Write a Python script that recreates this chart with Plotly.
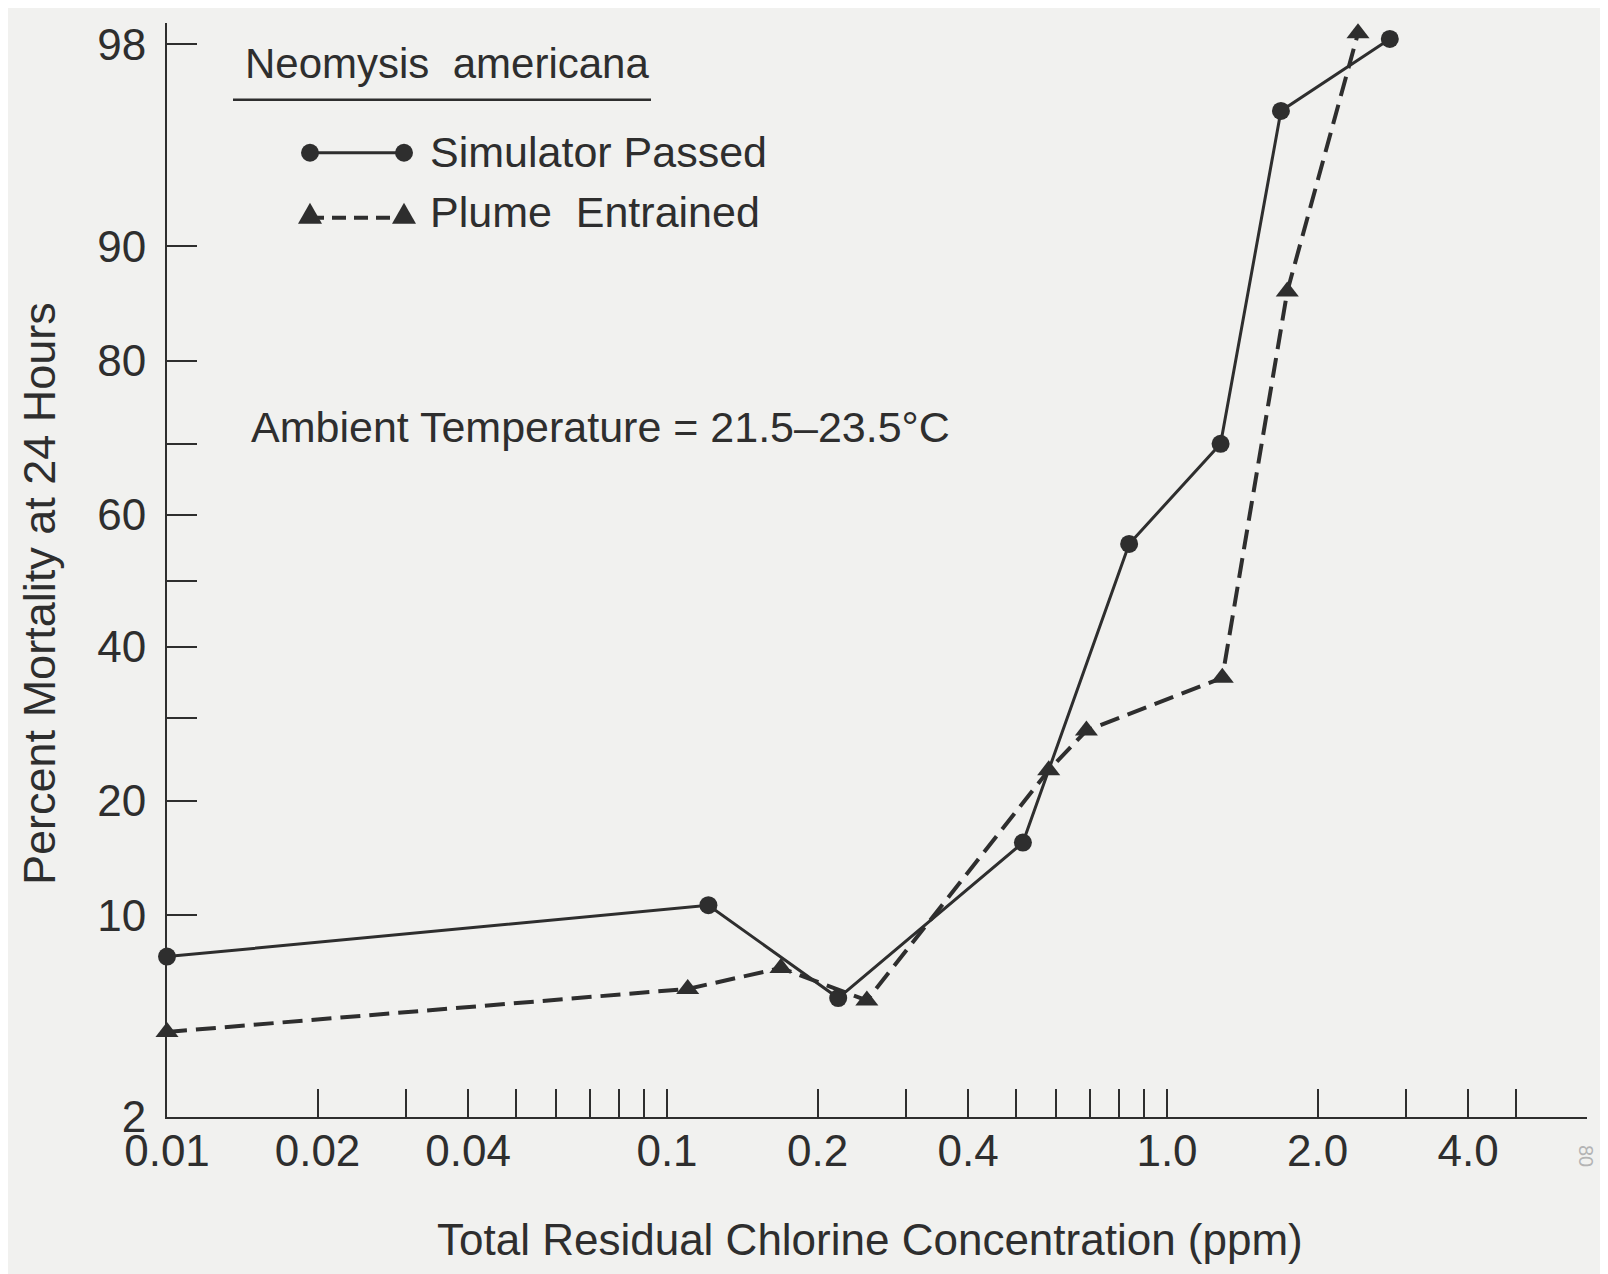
import math
from statistics import NormalDist
import plotly.graph_objects as go

# ---------------- data ----------------
sim_conc = [0.01, 0.121, 0.22, 0.515, 0.84, 1.28, 1.69, 2.79]
sim_mort = [7.5, 10.7, 5.5, 15.8, 55.6, 70.0, 96.4, 98.1]

plume_conc = [0.01, 0.110, 0.169, 0.251, 0.58, 0.69, 1.29, 1.74, 2.41]
plume_mort = [4.2, 5.9, 6.9, 5.4, 23.4, 28.3, 35.5, 86.6, 98.2]

y_tick_pct = [2, 10, 20, 30, 40, 50, 60, 70, 80, 90, 98]
y_tick_txt = ["2", "10", "20", "", "40", "", "60", "", "80", "90", "98"]

x_tick_vals = [0.01, 0.02, 0.03, 0.04, 0.05, 0.06, 0.07, 0.08, 0.09,
               0.1, 0.2, 0.3, 0.4, 0.5, 0.6, 0.7, 0.8, 0.9,
               1.0, 2.0, 3.0, 4.0, 5.0]
x_tick_txt = ["0.01", "0.02", "", "0.04", "", "", "", "", "",
              "0.1", "0.2", "", "0.4", "", "", "", "", "",
              "1.0", "2.0", "", "4.0", ""]
long_ticks = [0.1, 1.0]

# ---------------- helpers ----------------
nd = NormalDist()


def probit(pct):
    return nd.inv_cdf(pct / 100.0)


W, H = 1608, 1274
L, R, T, B = 159, 29, 13, 165
PW, PH = W - L - R, H - T - B

INK = "#2e2e2e"
BG = "#f1f1ef"
FONT = "Liberation Sans, Arial, Helvetica, sans-serif"


def px(x):
    return (x - L) / PW


def py(y):
    return (H - B - y) / PH


fig = go.Figure()

fig.add_trace(go.Scatter(
    x=sim_conc, y=[probit(v) for v in sim_mort],
    mode="lines+markers", name="Simulator Passed",
    line=dict(color=INK, width=3),
    marker=dict(symbol="circle", size=18, color=INK),
    cliponaxis=False, showlegend=False,
))
fig.add_trace(go.Scatter(
    x=plume_conc, y=[probit(v) for v in plume_mort],
    mode="lines+markers", name="Plume Entrained",
    line=dict(color=INK, width=4, dash="20px,9px"),
    marker=dict(symbol="triangle-up", size=20, color=INK),
    cliponaxis=False, showlegend=False,
))

shapes = []
# longer ticks at decades
for v in long_ticks:
    shapes.append(dict(type="line", xref="x", yref="paper",
                       x0=math.log10(v), x1=math.log10(v), y0=0, y1=40 / PH,
                       line=dict(color=INK, width=2)))
# underline of species name
shapes.append(dict(type="line", xref="paper", yref="paper",
                   x0=px(225), x1=px(643), y0=py(90), y1=py(90),
                   line=dict(color=INK, width=2.5)))
# legend samples
LY1, LY2 = 143, 208
shapes.append(dict(type="line", xref="paper", yref="paper",
                   x0=px(302), x1=px(396), y0=py(LY1), y1=py(LY1),
                   line=dict(color=INK, width=3)))
for cx in (302, 396):
    shapes.append(dict(type="circle", xref="paper", yref="paper",
                       x0=px(cx - 9), x1=px(cx + 9), y0=py(LY1 + 9), y1=py(LY1 - 9),
                       fillcolor=INK, line=dict(width=0)))
shapes.append(dict(type="line", xref="paper", yref="paper",
                   x0=px(302), x1=px(396), y0=py(LY2), y1=py(LY2),
                   line=dict(color=INK, width=4, dash="14px,8px")))
for cx in (302, 396):
    p = "M {:.5f},{:.5f} L {:.5f},{:.5f} L {:.5f},{:.5f} Z".format(
        px(cx), py(LY2 - 15), px(cx - 12), py(LY2 + 6), px(cx + 12), py(LY2 + 6))
    shapes.append(dict(type="path", xref="paper", yref="paper", path=p,
                       fillcolor=INK, line=dict(width=0)))

annotations = [
    dict(text="Neomysis  americana", x=px(235), y=py(54), xref="paper", yref="paper",
         xanchor="left", yanchor="middle", showarrow=False,
         font=dict(size=42, color=INK, family=FONT)),
    dict(text="Simulator Passed", x=px(420), y=py(142), xref="paper", yref="paper",
         xanchor="left", yanchor="middle", showarrow=False,
         font=dict(size=43, color=INK, family=FONT)),
    dict(text="Plume  Entrained", x=px(420), y=py(202), xref="paper", yref="paper",
         xanchor="left", yanchor="middle", showarrow=False,
         font=dict(size=43, color=INK, family=FONT)),
    dict(text="Ambient Temperature = 21.5\u201323.5\u00b0C", x=px(241), y=py(418),
         xref="paper", yref="paper", xanchor="left", yanchor="middle", showarrow=False,
         font=dict(size=43, color=INK, family=FONT)),
    # axis titles
    dict(text="Percent Mortality at 24 Hours", x=px(32), y=py(585),
         xref="paper", yref="paper", xanchor="center", yanchor="middle",
         showarrow=False, textangle=-90,
         font=dict(size=45, color=INK, family=FONT)),
    dict(text="Total Residual Chlorine Concentration (ppm)", x=px(862), y=py(1232),
         xref="paper", yref="paper", xanchor="center", yanchor="middle",
         showarrow=False,
         font=dict(size=44, color=INK, family=FONT)),
    dict(text="80", x=px(1578), y=py(1148), xref="paper", yref="paper",
         xanchor="center", yanchor="middle", showarrow=False, textangle=90,
         font=dict(size=20, color="#b4b4b4", family=FONT)),
]

fig.update_layout(
    width=W, height=H,
    margin=dict(l=L, r=R, t=T, b=B, pad=0),
    paper_bgcolor=BG, plot_bgcolor=BG,
    font=dict(family=FONT, color=INK, size=43),
    shapes=shapes, annotations=annotations,
    showlegend=False,
)

fig.update_xaxes(
    type="log", range=[-2, 0.84],
    tickmode="array", tickvals=x_tick_vals, ticktext=x_tick_txt,
    ticks="inside", ticklen=28, tickwidth=2, tickcolor=INK,
    ticklabelstandoff=-6,
    tickfont=dict(size=44, color=INK, family=FONT),
    showline=True, linewidth=2, linecolor=INK,
    showgrid=False, zeroline=False,
)

fig.update_yaxes(
    range=[probit(2), 2.136],
    tickmode="array", tickvals=[probit(v) for v in y_tick_pct], ticktext=y_tick_txt,
    ticks="inside", ticklen=30, tickwidth=2, tickcolor=INK,
    ticklabelstandoff=10,
    tickfont=dict(size=44, color=INK, family=FONT),
    showline=True, linewidth=2, linecolor=INK,
    showgrid=False, zeroline=False,
)

fig.write_html("out.html")
